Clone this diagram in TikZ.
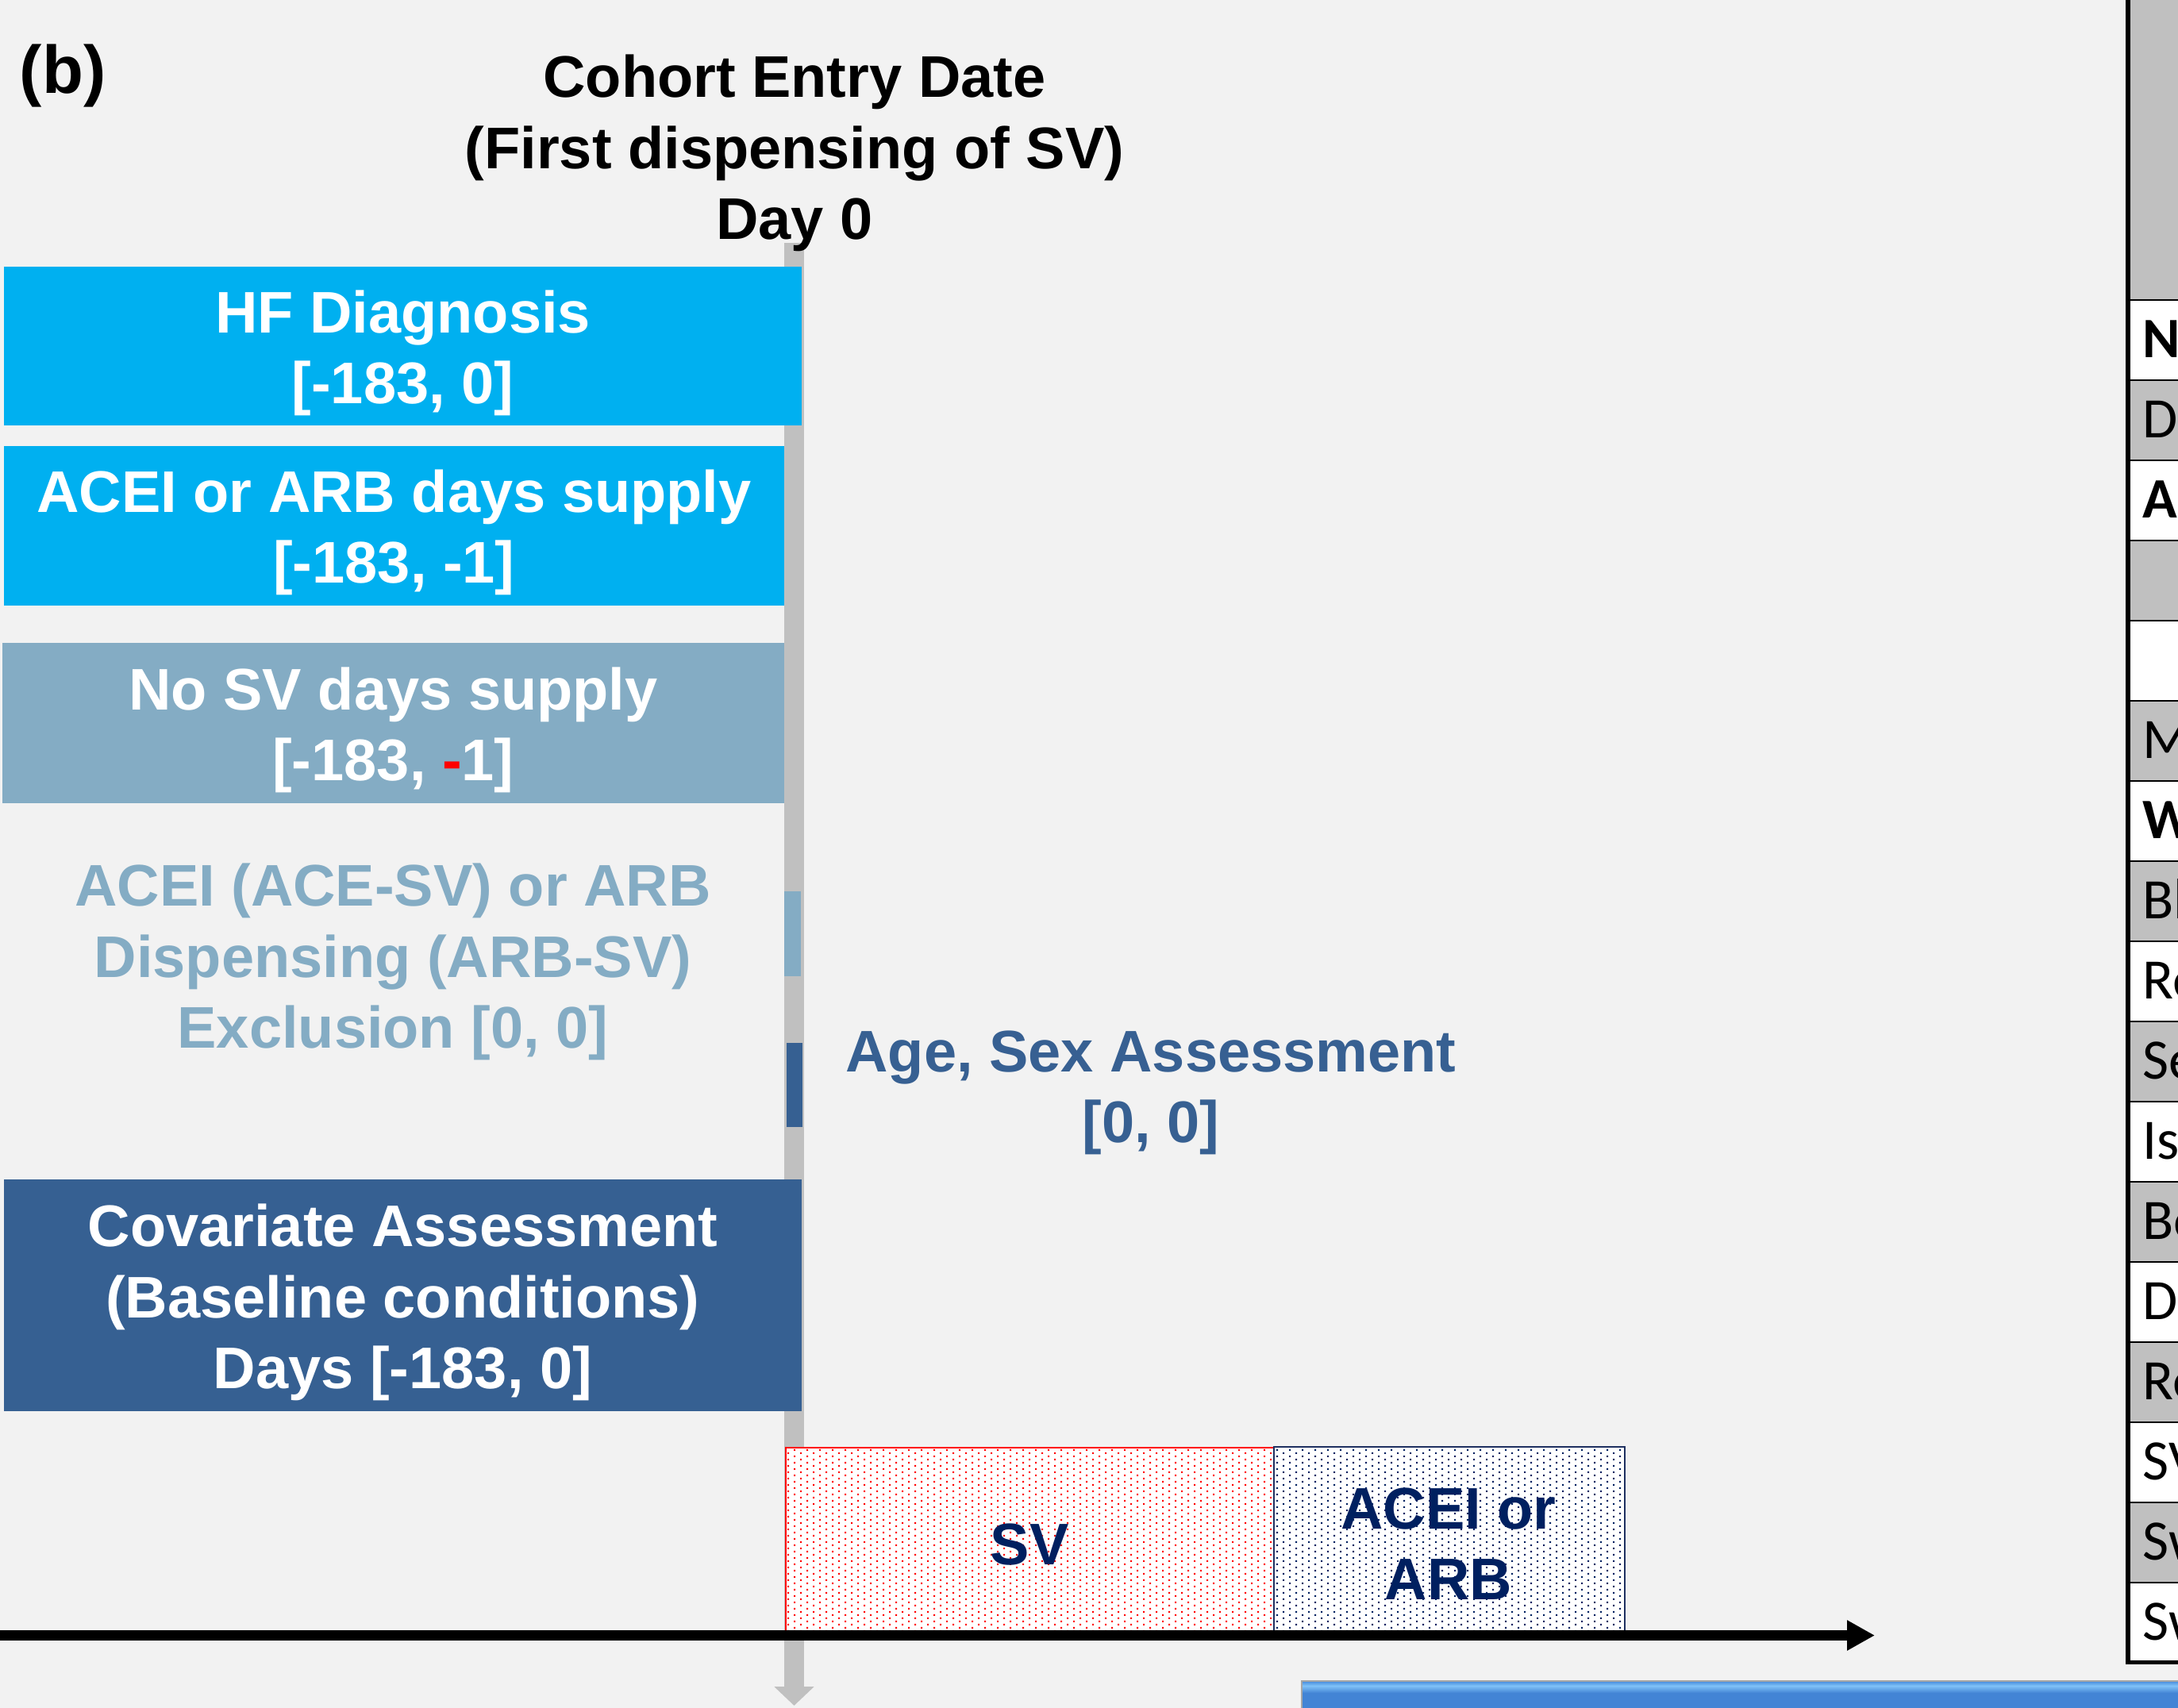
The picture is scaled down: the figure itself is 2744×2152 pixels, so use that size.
\documentclass[tikz,border=0pt]{standalone}
\usepackage{fontspec}
\setmainfont{Liberation Sans}
\newfontfamily\tabfont{Carlito}
\usetikzlibrary{arrows.meta,patterns}
\definecolor{bg}{HTML}{F2F2F2}
\definecolor{cyanbox}{HTML}{00B0F0}
\definecolor{steel}{HTML}{84ACC4}
\definecolor{darkbox}{HTML}{366092}
\definecolor{agetext}{HTML}{376092}
\definecolor{navy}{HTML}{002060}
\definecolor{navyline}{HTML}{1F3060}
\definecolor{grayline}{HTML}{C0C0C0}
\definecolor{tabgray}{HTML}{C0C0C0}
\definecolor{barblue}{HTML}{4384D5}
\definecolor{barlight}{HTML}{80C2F8}
\definecolor{barmid}{HTML}{4F93E0}
\pgfdeclarepatternformonly{svdots}{\pgfqpoint{-0.1pt}{-0.1pt}}{\pgfqpoint{4.1pt}{2.1pt}}{\pgfqpoint{4pt}{2pt}}{%
  \pgfpathrectangle{\pgfqpoint{0pt}{0pt}}{\pgfqpoint{0.5pt}{0.5pt}}%
  \pgfpathrectangle{\pgfqpoint{2pt}{1pt}}{\pgfqpoint{0.5pt}{0.5pt}}%
  \pgfusepath{fill}}
\tikzset{
  lbl/.style={font=\fontsize{18.5}{22.4}\selectfont\bfseries, align=center, inner sep=0pt},
  boxshape/.style={inner sep=0pt, outer sep=0pt, draw=none},
  daybar/.style={draw=grayline, line width=6.25pt, -{Triangle[width=12.25pt,length=6pt]}},
  axisline/.style={draw=black, line width=3.25pt, -{Triangle[width=9pt,length=8.75pt]}},
  tabtext/.style={anchor=base west, font=\tabfont\fontsize{18}{21}\selectfont, inner sep=0pt},
}
\begin{document}
\begin{tikzpicture}[x=0.25pt,y=-0.25pt]
\useasboundingbox (0,0) rectangle (2744,2152);
\clip (0,0) rectangle (2744,2152);
\fill[bg] (0,0) rectangle (2744,2152);

% Day 0 gray arrow
\coordinate (d0top) at (1000.5,306);
\coordinate (d0bot) at (1000.5,2149);
\draw[daybar] (d0top) -- (d0bot);

% label and title
\node[anchor=base west, font=\fontsize{21.25}{25}\selectfont\bfseries, inner sep=0pt] (lab) at (24,117) {(b)};
\node[lbl] (title) at (1001,193) {Cohort Entry Date\\(First dispensing of SV)\\Day 0};

% left boxes
\node[boxshape, fill=cyanbox, minimum width=251.25pt, minimum height=50pt] (hf) at (507.5,436) {};
\node[lbl, text=white] (hft) at (507.5,445) {HF Diagnosis\\{[-183, 0]}};

\node[boxshape, fill=cyanbox, minimum width=245.75pt, minimum height=50.25pt] (ace) at (496.5,662.5) {};
\node[lbl, text=white] (acet) at (496.5,671) {ACEI or ARB days supply\\{[-183, -1]}};

\node[boxshape, fill=steel, minimum width=246.25pt, minimum height=50.5pt] (nosv) at (495.5,911) {};
\node[lbl, text=white] (nosvt) at (495.5,920) {No SV days supply\\{[-183, {\color{red}-}1]}};

\node[boxshape, fill=steel, minimum width=5.25pt, minimum height=26.75pt] (exclbar) at (998.5,1176.5) {};
\node[lbl, text=steel] (exclt) at (495,1212) {ACEI (ACE-SV) or ARB\\Dispensing (ARB-SV)\\Exclusion [0, 0]};

\node[boxshape, fill=darkbox, minimum width=5pt, minimum height=26.5pt] (agebar) at (1001,1367) {};
\node[lbl, text=agetext] (aget) at (1450,1377) {Age, Sex Assessment\\{[0, 0]}};

\node[boxshape, fill=darkbox, minimum width=251.25pt, minimum height=73pt] (cov) at (507.5,1632) {};
\node[lbl, text=white] (covt) at (507.5,1641) {Covariate Assessment\\(Baseline conditions)\\Days [-183, 0]};

% exposure boxes
\node[inner sep=0pt, outer sep=0pt, draw=red, line width=0.6pt, preaction={fill=white}, pattern=svdots, pattern color=red, minimum width=153.75pt, minimum height=57.75pt] (svbox) at (1297.5,1939.5) {};
\node[lbl, text=navy] (svt) at (1297,1946) {SV};
\node[inner sep=0pt, outer sep=0pt, draw=navyline, line width=0.5pt, preaction={fill=white}, pattern=svdots, pattern color=navy, minimum width=110.5pt, minimum height=58pt] (acebox) at (1826,1939) {};
\node[lbl, text=navy] (acebt) at (1825,1945) {ACEI or\\ARB};

% time axis
\coordinate (axL) at (0,2060.5);
\coordinate (axR) at (2362,2060.5);
\draw[axisline] (axL) -- (axR);

% table at right edge (clipped)
\fill[tabgray] (2681,0) rectangle (2744,378);
\foreach \rowtxt [count=\i from 0] in {{\bfseries N},D,{\bfseries A,},{},{},M,{\bfseries W},Bl,Re,Se,Is,Bo,D,Re,SV,Sw,Sw} {
  \pgfmathsetmacro\yt{378+101*\i}
  \ifodd\i\relax \def\rc{tabgray}\else \def\rc{white}\fi
  \fill[\rc] (2681,\yt) rectangle (2744,\yt+101);
  \draw[line width=0.5pt] (2681,\yt) -- (2744,\yt);
  \node[tabtext] (row\i) at (2699,\yt+72) {\rowtxt};
}
\draw[line width=1.4pt] (2681,0) -- (2681,2094.5) -- (2744,2094.5);

% blue bar at the bottom
\fill[barblue] (1640,2118) rectangle (2744,2152);
\shade[top color=barmid, bottom color=barlight] (1641,2119) rectangle (2744,2124);
\shade[top color=barlight, bottom color=barblue] (1641,2124) rectangle (2744,2133);
\draw[line width=0.3pt, draw=gray!70] (1640,2152) -- (1640,2118) -- (2744,2118);
\end{tikzpicture}
\end{document}
